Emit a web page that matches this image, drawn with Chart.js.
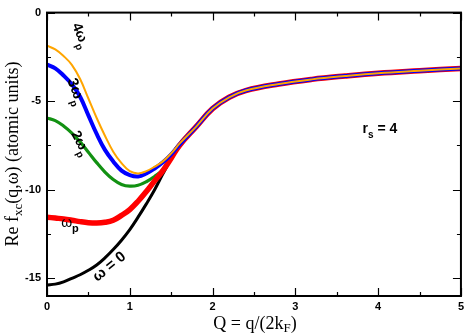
<!DOCTYPE html>
<html>
<head>
<meta charset="utf-8">
<script src="https://cdn.jsdelivr.net/npm/chart.js@4.4.1/dist/chart.umd.min.js"></script>
<style>
html,body{margin:0;padding:0;background:#fff;}
#wrap{width:468px;height:336px;position:relative;}
</style>
</head>
<body>
<div id="wrap"><canvas id="c" width="468" height="336"></canvas></div>
<script>
// Q values (units of 2kF) for the low-Q part where curves differ
const qLow = [0, 0.1, 0.2, 0.3, 0.4, 0.5, 0.6, 0.7, 0.8, 0.9, 1.0, 1.1, 1.2, 1.3, 1.4, 1.5, 1.6];
// Q values for the common tail
const qTail = [1.8, 2.0, 2.2, 2.4, 2.8, 3.2, 3.6, 4.0, 4.5, 5.0];
const tailValues = [-6.45, -5.42, -4.78, -4.4, -4.03, -3.77, -3.58, -3.42, -3.28, -3.15];

const omega0  = [-15.38, -15.33, -15.2, -15.0, -14.8, -14.55, -14.25, -13.85, -13.38, -12.85, -12.25, -11.55, -10.8, -10.0, -9.1, -8.25, -7.5];
const omegaP  = [-11.55, -11.6, -11.65, -11.72, -11.8, -11.86, -11.88, -11.84, -11.72, -11.45, -11.12, -10.65, -10.1, -9.5, -8.92, -8.22, -7.5];
const omega2P = [-5.95, -6.1, -6.4, -6.8, -7.3, -7.88, -8.47, -9.0, -9.42, -9.7, -9.8, -9.75, -9.55, -9.25, -8.88, -8.25, -7.5];
const omega3P = [-2.93, -3.15, -3.55, -4.05, -4.75, -5.8, -6.85, -7.75, -8.4, -8.92, -9.17, -9.25, -9.08, -8.8, -8.45, -8.0, -7.45];
const omega4P = [-1.87, -2.08, -2.45, -2.95, -3.75, -4.85, -5.95, -6.95, -7.85, -8.5, -8.95, -9.08, -8.95, -8.7, -8.4, -7.95, -7.4];

const seriesNames = ['4ωp', '3ωp', 'ωp', '2ωp', 'ω = 0'];
const xTicks = [0, 1, 2, 3, 4, 5];
const yTicks = [0, -5, -10, -15];

function pts(low) {
  const a = qLow.map((q, i) => ({x: q, y: low[i]}));
  return a.concat(qTail.map((q, i) => ({x: q, y: tailValues[i]})));
}

const L = 47, T = 5, R = 463, B = 296;

const decor = {
  id: 'decor',
  afterDraw(chart) {
    const ctx = chart.ctx;
    const xs = chart.scales.x, ys = chart.scales.y;
    const a = chart.chartArea;
    ctx.save();
    ctx.strokeStyle = '#000';
    ctx.lineWidth = 2;
    ctx.strokeRect(a.left, a.top, a.right - a.left, a.bottom - a.top);
    ctx.lineWidth = 1.2;
    for (let v = 0; v <= 5.001; v += 0.5) {
      const px = Math.round(xs.getPixelForValue(v)) + 0.5;
      const len = (Math.abs(v - Math.round(v)) < 1e-6) ? 8 : 4;
      ctx.beginPath();
      ctx.moveTo(px, a.bottom); ctx.lineTo(px, a.bottom - len);
      ctx.moveTo(px, a.top); ctx.lineTo(px, a.top + len);
      ctx.stroke();
    }
    for (let v = 0; v >= -16.001; v -= 2.5) {
      const py = Math.round(ys.getPixelForValue(v)) + 0.5;
      const len = (Math.abs(v / 5 - Math.round(v / 5)) < 1e-6) ? 8 : 4;
      ctx.beginPath();
      ctx.moveTo(a.left, py); ctx.lineTo(a.left + len, py);
      ctx.moveTo(a.right, py); ctx.lineTo(a.right - len, py);
      ctx.stroke();
    }
    ctx.fillStyle = '#000';
    function sub(x, y, angle, parts, align) {
      ctx.save();
      ctx.translate(x, y);
      ctx.rotate(angle * Math.PI / 180);
      let w = 0;
      parts.forEach(p => { ctx.font = p.f; w += ctx.measureText(p.t).width; });
      let cx = align === 'left' ? 0 : -w / 2;
      ctx.textBaseline = 'alphabetic';
      ctx.textAlign = 'left';
      parts.forEach(p => {
        ctx.font = p.f;
        ctx.fillText(p.t, cx, p.dy || 0);
        cx += ctx.measureText(p.t).width;
      });
      ctx.restore();
    }
    const S = '"Liberation Sans", Arial, sans-serif';
    const ss = 'bold 10px ' + S;
    sub(77, 37, 67, [{t: '4ω', f: 'bold 14px ' + S}, {t: 'p', f: ss, dy: 5}]);
    sub(72, 93, 70, [{t: '3ω', f: 'bold 15px ' + S}, {t: 'p', f: ss, dy: 5}]);
    sub(77, 145, 62, [{t: '2ω', f: 'bold 14px ' + S}, {t: 'p', f: ss, dy: 5}]);
    sub(70, 227, 0, [{t: 'ω', f: '14px ' + S}, {t: 'p', f: 'bold 11px ' + S, dy: 5}]);
    sub(112, 270, -39, [{t: 'ω = 0', f: 'bold 15px ' + S}]);
    sub(380, 133, 0, [{t: 'r', f: 'bold 14px ' + S},
                      {t: 's', f: 'bold 10px ' + S, dy: 5},
                      {t: ' = 4', f: 'bold 14px ' + S}]);
    const tf = '18px "Liberation Serif", "Times New Roman", serif';
    const tsub = '13px "Liberation Serif", "Times New Roman", serif';
    sub(18, 154, -90, [{t: 'Re f', f: tf}, {t: 'xc', f: tsub, dy: 4}, {t: '(q,ω) (atomic units)', f: tf}]);
    sub(255, 329, 0, [{t: 'Q = q/(2k', f: tf}, {t: 'F', f: tsub, dy: 3}, {t: ')', f: tf}]);
    ctx.restore();
  }
};

const common = {fill: false, pointRadius: 0, tension: 0.4, borderCapStyle: 'round', borderJoinStyle: 'round'};

new Chart(document.getElementById('c'), {
  type: 'line',
  data: {
    datasets: [
      Object.assign({label: seriesNames[0], data: pts(omega4P), borderColor: '#FFA500', borderWidth: 2}, common),
      Object.assign({label: seriesNames[1], data: pts(omega3P), borderColor: '#0000FF', borderWidth: 4}, common),
      Object.assign({label: seriesNames[2], data: pts(omegaP), borderColor: '#FF0000', borderWidth: 5.5}, common),
      Object.assign({label: seriesNames[3], data: pts(omega2P), borderColor: '#129112', borderWidth: 3.2}, common),
      Object.assign({label: seriesNames[4], data: pts(omega0), borderColor: '#000000', borderWidth: 3}, common)
    ]
  },
  options: {
    responsive: false,
    animation: false,
    devicePixelRatio: 1,
    layout: {padding: {left: 0, top: T, right: 468 - R, bottom: 0}},
    plugins: {legend: {display: false}, tooltip: {enabled: false}},
    scales: {
      x: {
        type: 'linear', min: 0, max: 5,
        afterFit(s) { s.height = 336 - B; },
        afterBuildTicks(s) { s.ticks = xTicks.map(v => ({value: v})); },
        grid: {display: false, drawTicks: false},
        border: {display: false},
        ticks: {padding: 4, color: '#000', font: {family: '"Liberation Sans", Arial, sans-serif', size: 11, weight: 'bold'}, maxRotation: 0}
      },
      y: {
        type: 'linear', min: -16, max: 0,
        afterFit(s) { s.width = L; },
        afterBuildTicks(s) { s.ticks = yTicks.map(v => ({value: v})); },
        grid: {display: false, drawTicks: false},
        border: {display: false},
        ticks: {padding: 6, color: '#000', font: {family: '"Liberation Sans", Arial, sans-serif', size: 11, weight: 'bold'}}
      }
    }
  },
  plugins: [decor]
});
</script>
</body>
</html>
